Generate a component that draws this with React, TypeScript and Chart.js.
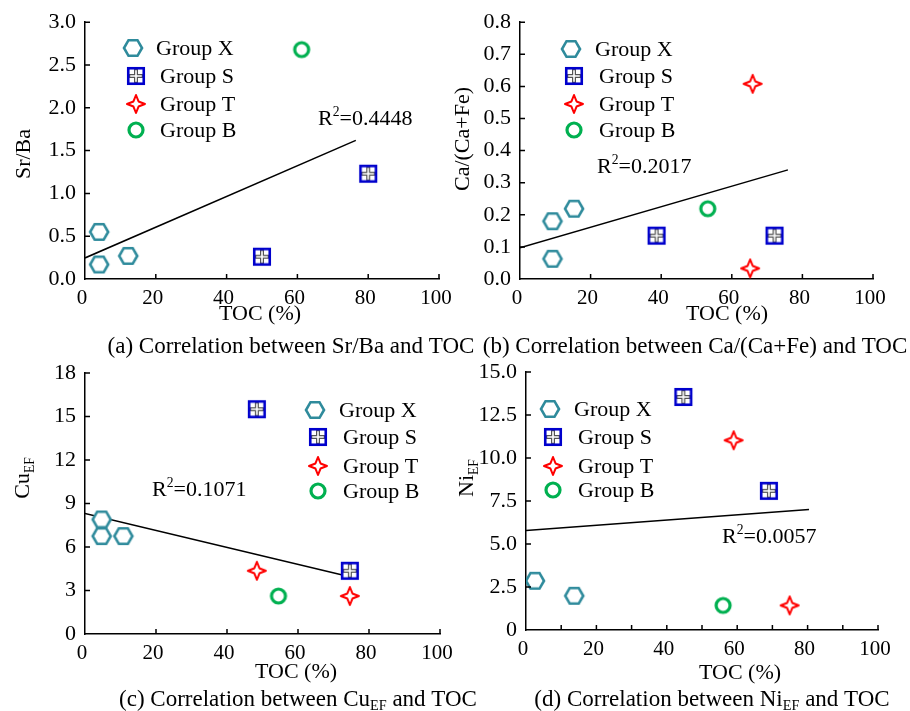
import React, { useEffect, useRef } from 'react';
import { Chart, registerables } from 'chart.js';
Chart.register(...registerables);

const FONT = '"Liberation Serif", "Times New Roman", serif';
const W = 910;
const H = 711;

// ---------- Data ----------
// (a) Sr/Ba vs TOC
const aXToc = [4.0, 4.0, 12.2];
const aXVal = [0.55, 0.17, 0.27];
const aSToc = [50.0, 80.0];
const aSVal = [0.26, 1.23];
const aTToc: number[] = [];
const aTVal: number[] = [];
const aBToc = [61.2];
const aBVal = [2.68];
const aTrendToc = [0, 76.5];
const aTrendVal = [0.246, 1.62];

// (b) Ca/(Ca+Fe) vs TOC
const bXToc = [9.2, 9.2, 15.3];
const bXVal = [0.18, 0.063, 0.219];
const bSToc = [38.7, 72.1];
const bSVal = [0.135, 0.135];
const bTToc = [65.9, 65.2];
const bTVal = [0.608, 0.033];
const bBToc = [53.2];
const bBVal = [0.219];
const bTrendToc = [0, 75.9];
const bTrendVal = [0.097, 0.34];

// (c) Cu_EF vs TOC
const cXToc = [4.7, 4.7, 10.8];
const cXVal = [7.9, 6.75, 6.75];
const cSToc = [48.4, 74.6];
const cSVal = [15.5, 4.36];
const cTToc = [48.4, 74.6];
const cTVal = [4.36, 2.62];
const cBToc = [54.5];
const cBVal = [2.62];
const cTrendToc = [0, 73.7];
const cTrendVal = [8.31, 4.0];

// (d) Ni_EF vs TOC
const dXToc = [2.55, 13.7];
const dXVal = [2.86, 1.99];
const dSToc = [44.7, 69.0];
const dSVal = [13.55, 8.09];
const dTToc = [59.0, 74.9];
const dTVal = [11.03, 1.43];
const dBToc = [56.0];
const dBVal = [1.43];
const dTrendToc = [0, 80.4];
const dTrendVal = [5.79, 7.01];

const groupNames = ['Group X', 'Group S', 'Group T', 'Group B'];
const r2Labels = ['0.4448', '0.2017', '0.1071', '0.0057'];

// ---------- markers ----------
type Kind = 'X' | 'S' | 'T' | 'B';
function makeMarker(kind: Kind): HTMLCanvasElement {
  const c = document.createElement('canvas');
  c.width = 26;
  c.height = 26;
  const ctx = c.getContext('2d')!;
  const cx = 13, cy = 13;
  if (kind === 'X') {
    const r = 9;
    ctx.beginPath();
    for (let i = 0; i < 6; i++) {
      const a = (Math.PI / 3) * i;
      const px = cx + r * Math.cos(a);
      const py = cy + r * Math.sin(a);
      if (i === 0) ctx.moveTo(px, py); else ctx.lineTo(px, py);
    }
    ctx.closePath();
    ctx.fillStyle = '#fff';
    ctx.fill();
    ctx.strokeStyle = '#2f8b9c';
    ctx.lineWidth = 2.6;
    ctx.stroke();
  } else if (kind === 'S') {
    const s = 15.5;
    ctx.fillStyle = '#fff';
    ctx.fillRect(cx - s / 2, cy - s / 2, s, s);
    ctx.strokeStyle = '#555';
    ctx.lineWidth = 4;
    ctx.beginPath();
    ctx.moveTo(cx, cy - s / 2); ctx.lineTo(cx, cy + s / 2);
    ctx.moveTo(cx - s / 2, cy); ctx.lineTo(cx + s / 2, cy);
    ctx.stroke();
    ctx.strokeStyle = '#fff';
    ctx.lineWidth = 1.6;
    ctx.beginPath();
    ctx.moveTo(cx, cy - s / 2 + 2); ctx.lineTo(cx, cy + s / 2 - 2);
    ctx.moveTo(cx - s / 2 + 2, cy); ctx.lineTo(cx + s / 2 - 2, cy);
    ctx.stroke();
    ctx.strokeStyle = '#0000cc';
    ctx.lineWidth = 2.6;
    ctx.strokeRect(cx - s / 2, cy - s / 2, s, s);
  } else if (kind === 'T') {
    const R = 9, r = 3.6;
    ctx.beginPath();
    for (let i = 0; i < 8; i++) {
      const a = -Math.PI / 2 + (Math.PI / 4) * i;
      const rr = i % 2 === 0 ? R : r;
      const px = cx + rr * Math.cos(a);
      const py = cy + rr * Math.sin(a);
      if (i === 0) ctx.moveTo(px, py); else ctx.lineTo(px, py);
    }
    ctx.closePath();
    ctx.fillStyle = '#fff';
    ctx.fill();
    ctx.strokeStyle = '#ff0000';
    ctx.lineWidth = 2;
    ctx.lineJoin = 'round';
    ctx.stroke();
  } else {
    ctx.beginPath();
    ctx.arc(cx, cy, 7, 0, Math.PI * 2);
    ctx.fillStyle = '#fff';
    ctx.fill();
    ctx.strokeStyle = '#00b050';
    ctx.lineWidth = 3.2;
    ctx.stroke();
  }
  return c;
}

// ---------- rich text ----------
type Part = [string, 'n' | 'sub' | 'sup'];
function drawRich(ctx: CanvasRenderingContext2D, parts: Part[], x: number, y: number, size: number, align: 'left' | 'center') {
  const small = size * 0.62;
  let total = 0;
  for (const [t, m] of parts) {
    ctx.font = `${m === 'n' ? size : small}px ${FONT}`;
    total += ctx.measureText(t).width;
  }
  let cur = align === 'center' ? x - total / 2 : x;
  const base = y + size * 0.33;
  ctx.textBaseline = 'alphabetic';
  ctx.textAlign = 'left';
  ctx.fillStyle = '#000';
  for (const [t, m] of parts) {
    ctx.font = `${m === 'n' ? size : small}px ${FONT}`;
    const dy = m === 'sub' ? size * 0.2 : m === 'sup' ? -size * 0.4 : 0;
    ctx.fillText(t, cur, base + dy);
    cur += ctx.measureText(t).width;
  }
}

const zip = (xs: number[], ys: number[]) => xs.map((x, i) => ({ x, y: ys[i] }));

interface PanelCfg {
  area: { left: number; top: number; right: number; bottom: number };
  xs: number[][];
  ys: number[][];
  trendX: number[];
  trendY: number[];
  yMin: number;
  yMax: number;
  yStep: number;
  yFmt: (v: number) => string;
  xStep: number;
  xFmt: (v: number) => string;
  legend: { mx: number; tx: number; rows: number[] };
  yTitle: Part[];
  yTitlePos: [number, number];
  xTitlePos: [number, number];
  caption: Part[];
  captionPos: [number, number];
  r2: string;
  r2Pos: [number, number];
}

const fmt1 = (v: number) => v.toFixed(1);
const fmtInt = (v: number) => String(Math.round(v));
const fmt20 = (v: number) => (Math.round(v) % 20 === 0 ? String(Math.round(v)) : '');

const panels: PanelCfg[] = [
  {
    area: { left: 85, top: 19, right: 439, bottom: 279 },
    xs: [aXToc, aSToc, aTToc, aBToc],
    ys: [aXVal, aSVal, aTVal, aBVal],
    trendX: aTrendToc, trendY: aTrendVal,
    yMin: 0, yMax: 3, yStep: 0.5, yFmt: fmt1, xStep: 20, xFmt: fmtInt,
    legend: { mx: 136, tx: 160, rows: [48, 76, 104, 130] },
    yTitle: [['Sr/Ba', 'n']], yTitlePos: [23, 154],
    xTitlePos: [260, 313],
    caption: [['(a) Correlation between Sr/Ba and TOC', 'n']], captionPos: [291, 345],
    r2: r2Labels[0], r2Pos: [318, 118],
  },
  {
    area: { left: 520, top: 17, right: 873, bottom: 279 },
    xs: [bXToc, bSToc, bTToc, bBToc],
    ys: [bXVal, bSVal, bTVal, bBVal],
    trendX: bTrendToc, trendY: bTrendVal,
    yMin: 0, yMax: 0.8, yStep: 0.1, yFmt: fmt1, xStep: 20, xFmt: fmtInt,
    legend: { mx: 574, tx: 599, rows: [49, 76, 104, 130] },
    yTitle: [['Ca/(Ca+Fe)', 'n']], yTitlePos: [462, 139],
    xTitlePos: [727, 313],
    caption: [['(b) Correlation between Ca/(Ca+Fe) and TOC', 'n']], captionPos: [695, 345],
    r2: r2Labels[1], r2Pos: [597, 166],
  },
  {
    area: { left: 85, top: 373, right: 440, bottom: 634 },
    xs: [cXToc, cSToc, cTToc, cBToc],
    ys: [cXVal, cSVal, cTVal, cBVal],
    trendX: cTrendToc, trendY: cTrendVal,
    yMin: 0, yMax: 18, yStep: 3, yFmt: fmtInt, xStep: 20, xFmt: fmtInt,
    legend: { mx: 318, tx: 343, rows: [410, 437, 466, 491] },
    yTitle: [['Cu', 'n'], ['EF', 'sub']], yTitlePos: [22, 478],
    xTitlePos: [296, 671],
    caption: [['(c) Correlation between Cu', 'n'], ['EF', 'sub'], [' and TOC', 'n']], captionPos: [298, 698],
    r2: r2Labels[2], r2Pos: [152, 489],
  },
  {
    area: { left: 526, top: 372, right: 878, bottom: 630 },
    xs: [dXToc, dSToc, dTToc, dBToc],
    ys: [dXVal, dSVal, dTVal, dBVal],
    trendX: dTrendToc, trendY: dTrendVal,
    yMin: 0, yMax: 15, yStep: 2.5, yFmt: (v) => (v === 0 ? '0' : v.toFixed(1)), xStep: 10, xFmt: fmt20,
    legend: { mx: 553, tx: 578, rows: [409, 437, 466, 490] },
    yTitle: [['Ni', 'n'], ['EF', 'sub']], yTitlePos: [466, 478],
    xTitlePos: [740, 672],
    caption: [['(d) Correlation between Ni', 'n'], ['EF', 'sub'], [' and TOC', 'n']], captionPos: [712, 698],
    r2: r2Labels[3], r2Pos: [722, 536],
  },
];

function PanelChart({ cfg, markers }: { cfg: PanelCfg; markers: HTMLCanvasElement[] }) {
  const ref = useRef<HTMLCanvasElement>(null);
  useEffect(() => {
    if (!ref.current) return;
    const { area } = cfg;
    const datasets: any[] = groupNames.map((g, i) => ({
      label: g,
      data: zip(cfg.xs[i], cfg.ys[i]),
      pointStyle: markers[i],
      pointRadius: 9,
      showLine: false,
      order: 1,
    }));
    datasets.push({
      label: 'trend',
      data: zip(cfg.trendX, cfg.trendY),
      showLine: true,
      borderColor: '#000',
      borderWidth: 1.5,
      pointRadius: 0,
      order: 2,
    });
    const overlay = {
      id: 'overlay',
      afterDraw(chart: any) {
        const ctx: CanvasRenderingContext2D = chart.ctx;
        const xs = chart.scales.x;
        const ys = chart.scales.y;
        const ca = chart.chartArea;
        ctx.save();
        ctx.strokeStyle = '#000';
        ctx.lineWidth = 1.5;
        ctx.beginPath();
        for (const t of xs.ticks) {
          if (t.value === 0) continue;
          const px = xs.getPixelForValue(t.value);
          ctx.moveTo(px, ca.bottom);
          ctx.lineTo(px, ca.bottom - 5);
        }
        for (const t of ys.ticks) {
          if (t.value === 0) continue;
          const py = ys.getPixelForValue(t.value);
          ctx.moveTo(ca.left, py);
          ctx.lineTo(ca.left + 5, py);
        }
        ctx.stroke();
        // legend
        const lg = cfg.legend;
        groupNames.forEach((g, i) => {
          const m = markers[i];
          const dx = i === 0 ? -3 : 0;
          const dtx = i === 0 ? -4 : 0;
          ctx.drawImage(m, lg.mx + dx - m.width / 2, lg.rows[i] - m.height / 2);
          drawRich(ctx, [[g, 'n']], lg.tx + dtx, lg.rows[i], 22, 'left');
        });
        // R2
        drawRich(ctx, [['R', 'n'], ['2', 'sup'], ['=' + cfg.r2, 'n']], cfg.r2Pos[0], cfg.r2Pos[1], 22, 'left');
        // x title
        drawRich(ctx, [['TOC (%)', 'n']], cfg.xTitlePos[0], cfg.xTitlePos[1], 22, 'center');
        // caption
        drawRich(ctx, cfg.caption, cfg.captionPos[0], cfg.captionPos[1], 23, 'center');
        // y title
        ctx.save();
        ctx.translate(cfg.yTitlePos[0], cfg.yTitlePos[1]);
        ctx.rotate(-Math.PI / 2);
        drawRich(ctx, cfg.yTitle, 0, 0, 22, 'center');
        ctx.restore();
        ctx.restore();
      },
    };
    const chart = new Chart(ref.current, {
      type: 'scatter',
      data: { datasets },
      options: {
        responsive: false,
        animation: false,
        events: [],
        layout: { padding: { top: area.top, right: W - area.right, left: 0, bottom: 0 } },
        plugins: { legend: { display: false }, tooltip: { enabled: false } },
        scales: {
          x: {
            type: 'linear',
            min: 0,
            max: 100,
            ticks: {
              stepSize: cfg.xStep,
              autoSkip: false,
              maxRotation: 0,
              font: { family: FONT, size: 21 },
              color: '#000',
              padding: 7,
              labelOffset: -3,
              callback: (v: any) => cfg.xFmt(Number(v)),
            },
            grid: { display: false, drawTicks: false },
            border: { display: true, color: '#000', width: 1.5 },
            afterFit: (s: any) => { s.height = H - area.bottom; },
          },
          y: {
            type: 'linear',
            min: cfg.yMin,
            max: cfg.yMax,
            ticks: {
              stepSize: cfg.yStep,
              autoSkip: false,
              font: { family: FONT, size: 22 },
              color: '#000',
              padding: 9,
              callback: (v: any) => cfg.yFmt(Number(v)),
            },
            grid: { display: false, drawTicks: false },
            border: { display: true, color: '#000', width: 1.5 },
            afterFit: (s: any) => { s.width = area.left; },
          },
        },
      } as any,
      plugins: [overlay],
    });
    return () => chart.destroy();
  }, [cfg, markers]);
  return (
    <canvas
      ref={ref}
      width={W}
      height={H}
      style={{ position: 'absolute', left: 0, top: 0, width: W, height: H }}
    />
  );
}

export default function App() {
  const markersRef = useRef<HTMLCanvasElement[] | null>(null);
  if (!markersRef.current) {
    markersRef.current = (['X', 'S', 'T', 'B'] as Kind[]).map(makeMarker);
  }
  return (
    <div style={{ position: 'absolute', left: 0, top: 0, width: W, height: H, background: '#fff', overflow: 'hidden' }}>
      {panels.map((p, i) => (
        <PanelChart key={i} cfg={p} markers={markersRef.current!} />
      ))}
    </div>
  );
}
